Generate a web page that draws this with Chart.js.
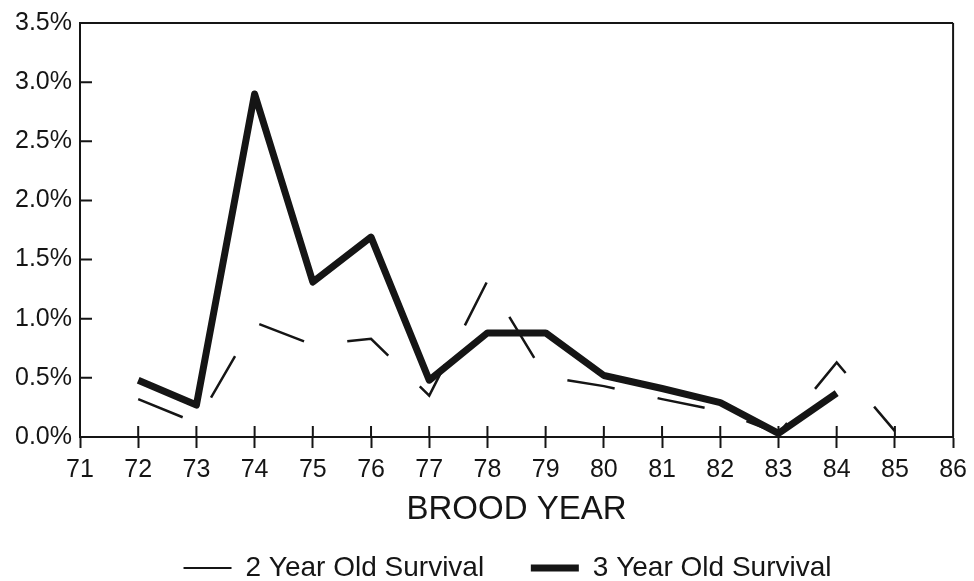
<!DOCTYPE html>
<html>
<head>
<meta charset="utf-8">
<script src="https://cdn.jsdelivr.net/npm/chart.js@4.4.1/dist/chart.umd.min.js"></script>
<style>
  html, body { margin: 0; padding: 0; background: #ffffff; }
  #wrap { width: 974px; height: 581px; }
</style>
</head>
<body>
<div id="wrap"><canvas id="c" width="974" height="581"></canvas></div>
<script>
// ---- data ----
const years2 = [72, 73, 74, 75, 76, 77, 78, 79, 80, 81, 82, 83, 84, 85];
const twoYearSurvival = [0.32, 0.12, 0.97, 0.78, 0.83, 0.35, 1.32, 0.51, 0.43, 0.32, 0.22, 0.03, 0.63, 0.05];
const years3 = [72, 73, 74, 75, 76, 77, 78, 79, 80, 81, 82, 83, 84];
const threeYearSurvival = [0.48, 0.27, 2.90, 1.31, 1.69, 0.48, 0.88, 0.88, 0.52, 0.41, 0.29, 0.03, 0.37];
const seriesNames = ['2 Year Old Survival', '3 Year Old Survival'];
const xTitle = 'BROOD YEAR';
const xMin = 71, xMax = 86;
const yMin = 0, yMax = 3.5, yStep = 0.5;

const INK = '#151515';
const FONT = "'Liberation Sans', Arial, sans-serif";

const toPoints = (xs, ys) => xs.map((x, i) => ({ x: x, y: ys[i] }));

// shift the legend box so the centred row sits where the reference has it
const legendShift = {
  id: 'legendShift',
  afterLayout(chart) {
    if (chart.legend) { chart.legend.left += 60; }
  }
};

const frameTicks = {
  id: 'frameTicks',
  afterDraw(chart) {
    const { ctx, chartArea: a, scales } = chart;
    ctx.save();
    ctx.strokeStyle = INK;
    ctx.lineWidth = 2;
    ctx.lineCap = 'butt';
    ctx.beginPath();
    ctx.moveTo(a.left - 1, a.top);
    ctx.lineTo(a.right, a.top);
    ctx.moveTo(a.right, a.top);
    ctx.lineTo(a.right, a.bottom);
    scales.x.ticks.forEach(t => {
      const px = scales.x.getPixelForValue(t.value);
      ctx.moveTo(px, a.bottom - 11);
      ctx.lineTo(px, a.bottom);
    });
    scales.y.ticks.forEach(t => {
      const py = scales.y.getPixelForValue(t.value);
      ctx.moveTo(a.left, py);
      ctx.lineTo(a.left + 12, py);
    });
    ctx.stroke();
    ctx.restore();
  }
};

new Chart(document.getElementById('c'), {
  type: 'line',
  data: {
    datasets: [
      {
        label: seriesNames[0],
        data: toPoints(years2, twoYearSurvival),
        borderColor: INK,
        backgroundColor: INK,
        borderWidth: 2.5,
        borderDash: [48, 44],
        pointRadius: 0,
        tension: 0,
        fill: false
      },
      {
        label: seriesNames[1],
        data: toPoints(years3, threeYearSurvival),
        borderColor: INK,
        backgroundColor: INK,
        borderWidth: 7,
        borderJoinStyle: 'round',
        pointRadius: 0,
        tension: 0,
        fill: false
      }
    ]
  },
  options: {
    responsive: false,
    animation: false,
    events: [],
    layout: { padding: { left: 0, right: 19, top: 20, bottom: -11 } },
    plugins: {
      tooltip: { enabled: false },
      legend: {
        position: 'bottom',
        align: 'center',
        labels: {
          color: INK,
          font: { family: FONT, size: 28 },
          padding: 0,
          usePointStyle: true,
          pointStyleWidth: 48,
          generateLabels(chart) {
            return chart.data.datasets.map((ds, i) => ({
              text: i === 0 ? ds.label + '      ' : ds.label,
              fillStyle: INK,
              strokeStyle: INK,
              lineWidth: i === 0 ? 2 : 7,
              lineDash: [],
              pointStyle: 'line',
              fontColor: INK,
              hidden: false,
              datasetIndex: i
            }));
          }
        }
      }
    },
    scales: {
      x: {
        type: 'linear',
        min: xMin,
        max: xMax,
        afterFit(s) { s.height = 117; },
        ticks: {
          stepSize: 1,
          color: INK,
          padding: 7,
          font: { family: FONT, size: 25 },
          callback: v => String(v)
        },
        grid: {
          drawOnChartArea: false,
          drawTicks: true,
          tickLength: 11,
          tickWidth: 2,
          color: INK
        },
        border: { display: true, color: INK, width: 2 },
        title: {
          display: true,
          text: xTitle,
          color: INK,
          font: { family: FONT, size: 33 },
          padding: { top: 0, bottom: 24 }
        }
      },
      y: {
        min: yMin,
        max: yMax,
        afterFit(s) { s.width = 80; },
        ticks: {
          stepSize: yStep,
          color: INK,
          padding: 8,
          font: { family: FONT, size: 25 },
          callback: v => Number(v).toFixed(1) + '%'
        },
        grid: { drawOnChartArea: false, drawTicks: false, color: INK },
        border: { display: true, color: INK, width: 2 }
      }
    }
  },
  plugins: [legendShift, frameTicks]
});
</script>
</body>
</html>
